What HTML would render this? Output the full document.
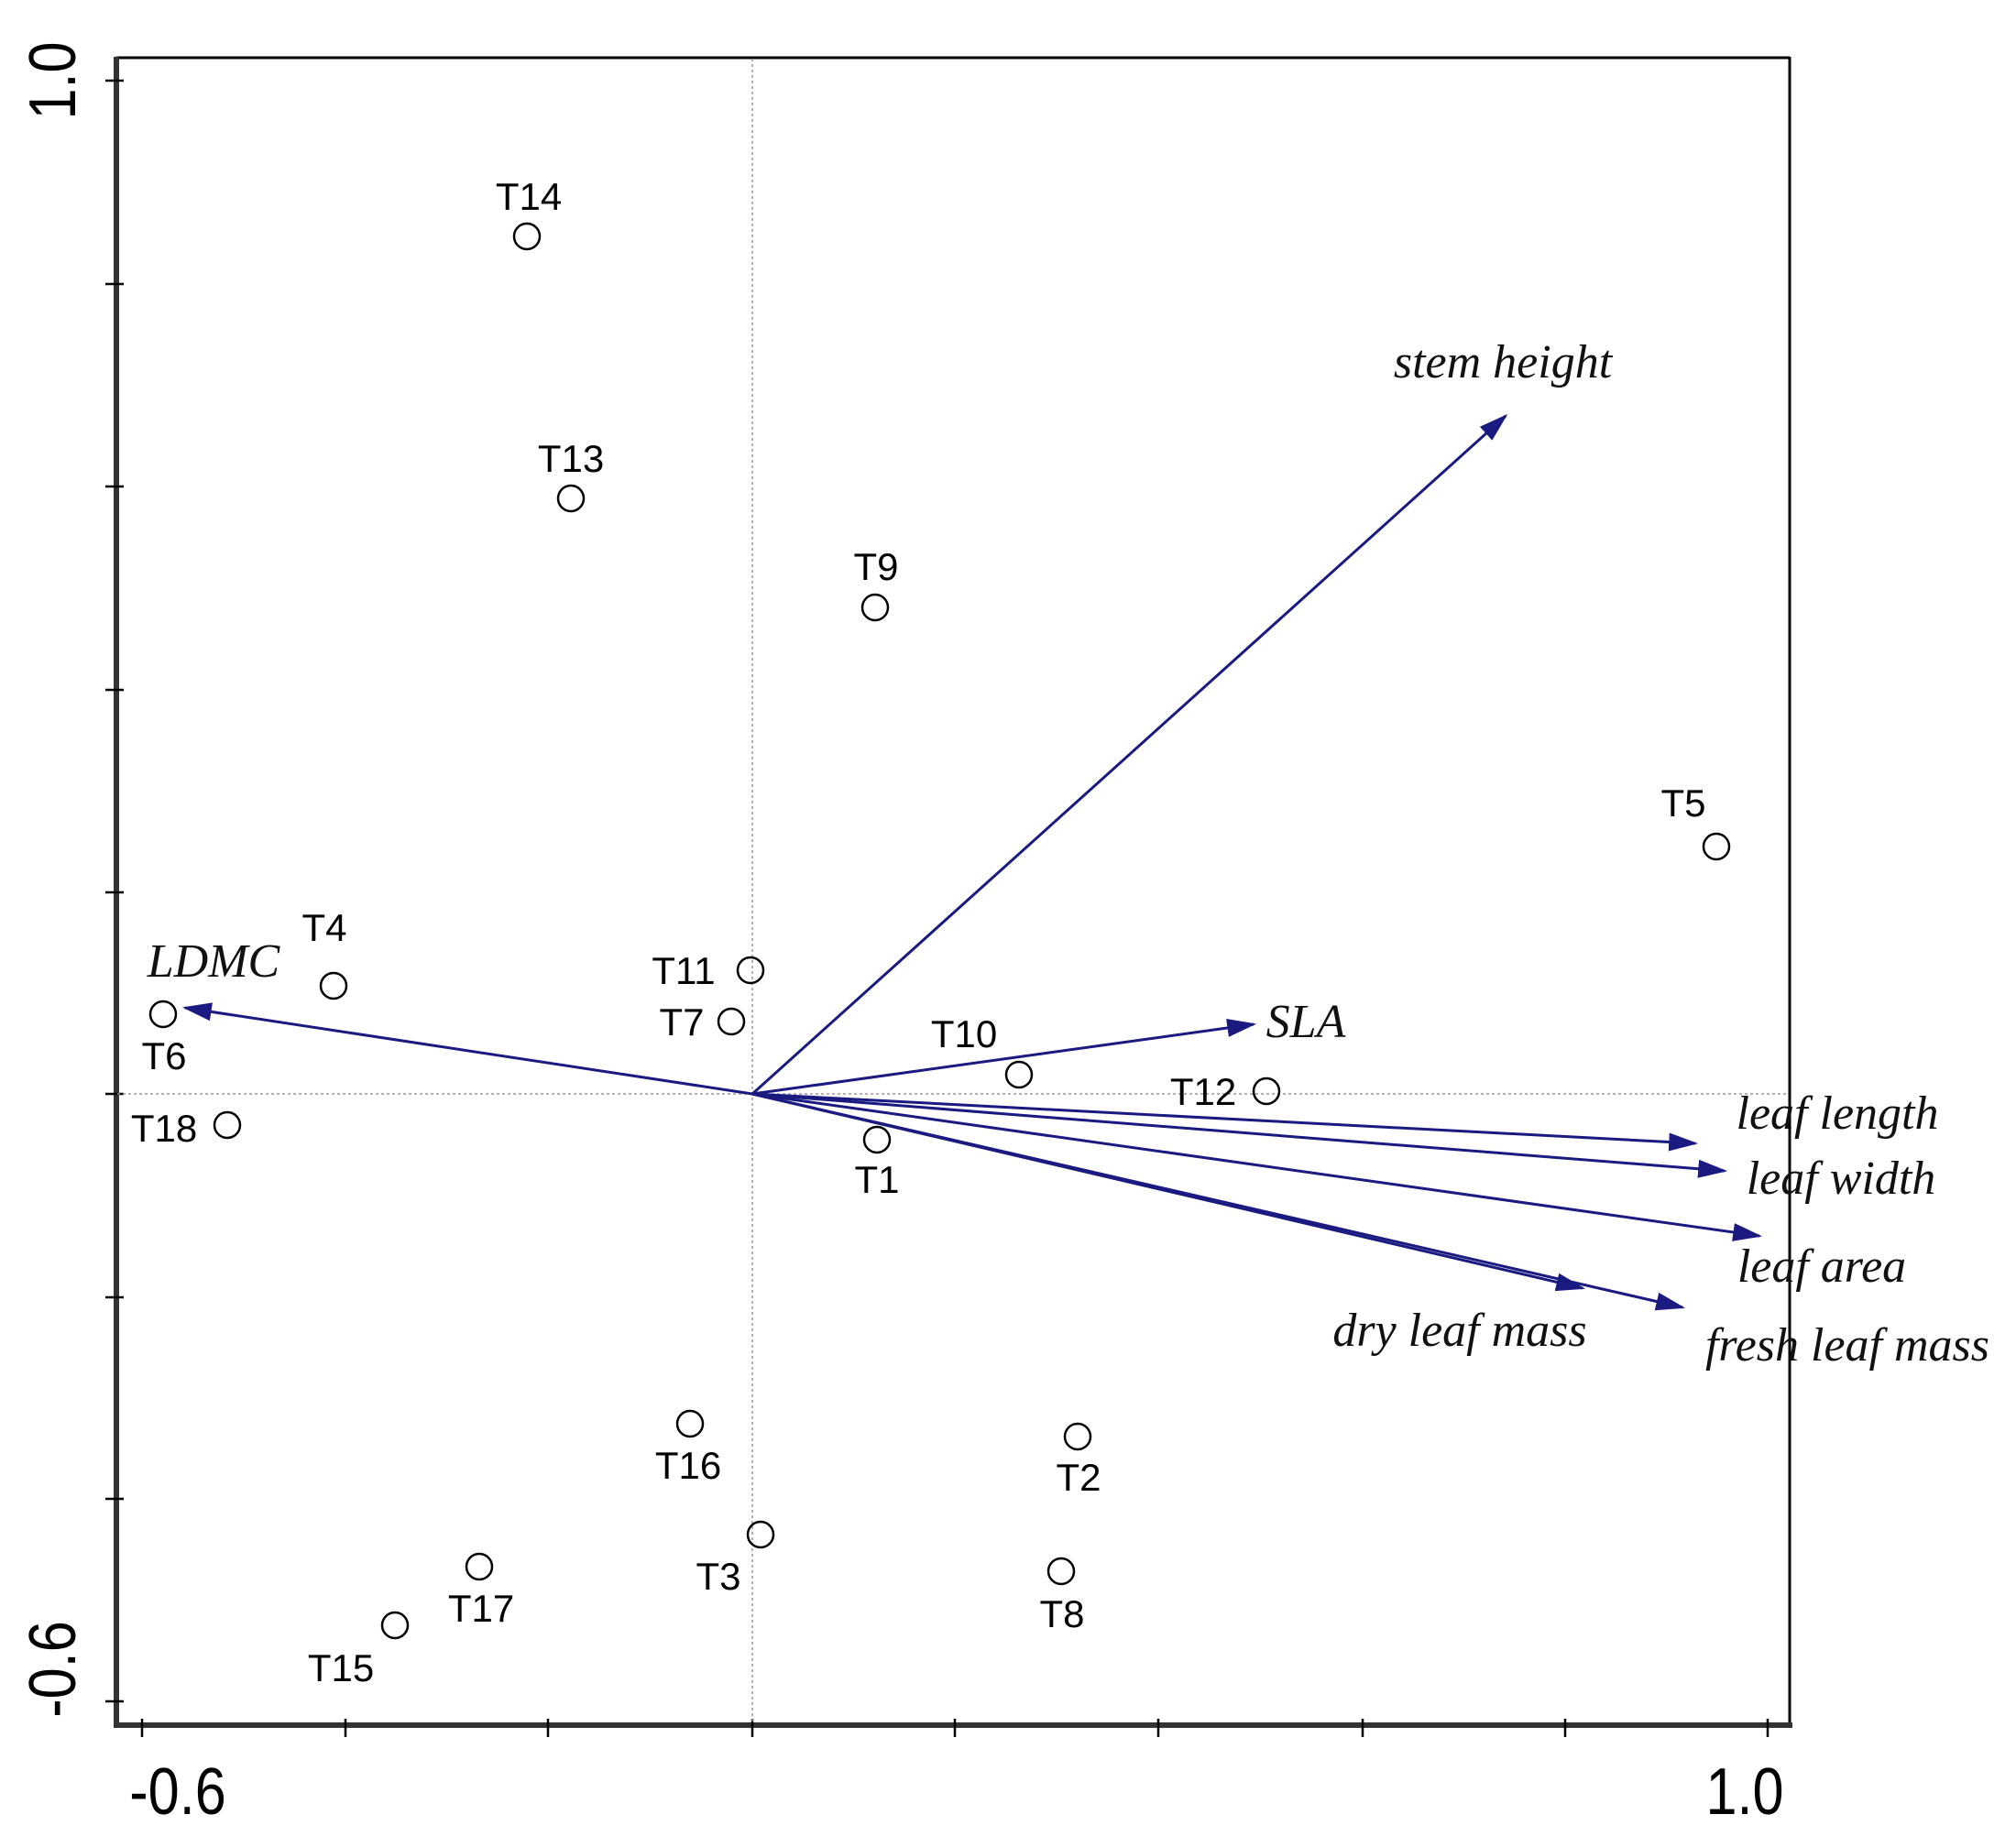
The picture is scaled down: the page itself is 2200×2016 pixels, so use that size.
<!DOCTYPE html>
<html><head><meta charset="utf-8"><style>html,body{margin:0;padding:0;background:#fff}svg{display:block}</style></head>
<body>
<svg width="2200" height="2016" viewBox="0 0 2200 2016" xmlns="http://www.w3.org/2000/svg">
<defs>
<marker id="ah" viewBox="0 0 10 10" refX="9" refY="5" markerWidth="32" markerHeight="20" markerUnits="userSpaceOnUse" orient="auto" preserveAspectRatio="none">
<path d="M0,0 L10,5 L0,10 z" fill="#1a1a80"/>
</marker>
</defs>
<line x1="127" y1="63" x2="1953" y2="63" stroke="#000" stroke-width="3"/>
<line x1="1953" y1="62" x2="1953" y2="1884" stroke="#000" stroke-width="3"/>
<line x1="127" y1="62" x2="127" y2="1886" stroke="#333" stroke-width="6"/>
<line x1="124" y1="1883" x2="1956" y2="1883" stroke="#333" stroke-width="6"/>
<g stroke="#000" stroke-width="2.5">
<line x1="115" y1="88" x2="135" y2="88"/><line x1="115" y1="310" x2="135" y2="310"/>
<line x1="115" y1="531" x2="135" y2="531"/><line x1="115" y1="753" x2="135" y2="753"/>
<line x1="115" y1="974" x2="135" y2="974"/><line x1="115" y1="1194" x2="135" y2="1194"/>
<line x1="115" y1="1416" x2="135" y2="1416"/><line x1="115" y1="1636" x2="135" y2="1636"/>
<line x1="115" y1="1857" x2="135" y2="1857"/>
<line x1="155" y1="1876" x2="155" y2="1896"/><line x1="377" y1="1876" x2="377" y2="1896"/>
<line x1="598" y1="1876" x2="598" y2="1896"/><line x1="821" y1="1876" x2="821" y2="1896"/>
<line x1="1042" y1="1876" x2="1042" y2="1896"/><line x1="1264" y1="1876" x2="1264" y2="1896"/>
<line x1="1487" y1="1876" x2="1487" y2="1896"/><line x1="1708" y1="1876" x2="1708" y2="1896"/>
<line x1="1929" y1="1876" x2="1929" y2="1896"/>
</g>
<g font-family="Liberation Sans, sans-serif" font-size="72" fill="#000">
<text x="0" y="0" text-anchor="middle" transform="translate(82,88) rotate(-90) scale(0.85,1)">1.0</text>
<text x="0" y="0" text-anchor="middle" transform="translate(82,1822) rotate(-90) scale(0.85,1)">-0.6</text>
<text x="0" y="0" text-anchor="middle" transform="translate(194,1980) scale(0.85,1)">-0.6</text>
<text x="0" y="0" text-anchor="middle" transform="translate(1904,1980) scale(0.85,1)">1.0</text>
</g>
<line x1="128" y1="1194" x2="1951" y2="1194" stroke="#999" stroke-width="1.5" stroke-dasharray="3,3"/>
<line x1="821" y1="64" x2="821" y2="1881" stroke="#999" stroke-width="1.5" stroke-dasharray="3,3"/>
<g stroke="#1a1a80" stroke-width="3" marker-end="url(#ah)">
<line x1="821" y1="1194" x2="1643" y2="454"/>
<line x1="821" y1="1194" x2="1368" y2="1118"/>
<line x1="821" y1="1194" x2="202" y2="1100"/>
<line x1="821" y1="1194" x2="1850" y2="1248"/>
<line x1="821" y1="1194" x2="1882" y2="1278"/>
<line x1="821" y1="1194" x2="1920" y2="1349"/>
<line x1="821" y1="1194" x2="1727" y2="1406"/>
<line x1="821" y1="1194" x2="1836" y2="1427"/>
</g>
<g font-family="Liberation Serif, serif" font-style="italic" font-size="52" fill="#111" text-anchor="middle">
<text x="1640" y="412">stem height</text>
<text x="1425" y="1132">SLA</text>
<text x="233" y="1066">LDMC</text>
<text x="2005" y="1232">leaf length</text>
<text x="2009" y="1303">leaf width</text>
<text x="1988" y="1399">leaf area</text>
<text x="1593" y="1469">dry leaf mass</text>
<text x="2016" y="1485">fresh leaf mass</text>
</g>
<g fill="none" stroke="#000" stroke-width="2.5">
<circle cx="575" cy="258" r="14"/><circle cx="623" cy="544" r="14"/>
<circle cx="955" cy="663" r="14"/><circle cx="1873" cy="924" r="14"/>
<circle cx="364" cy="1076" r="14"/><circle cx="178" cy="1107" r="14"/>
<circle cx="819" cy="1059" r="14"/><circle cx="798" cy="1115" r="14"/>
<circle cx="1112" cy="1173" r="14"/><circle cx="1382" cy="1191" r="14"/>
<circle cx="248" cy="1228" r="14"/><circle cx="957" cy="1244" r="14"/>
<circle cx="753" cy="1554" r="14"/><circle cx="1176" cy="1568" r="14"/>
<circle cx="830" cy="1675" r="14"/><circle cx="1158" cy="1715" r="14"/>
<circle cx="523" cy="1710" r="14"/><circle cx="431" cy="1774" r="14"/>
</g>
<g font-family="Liberation Sans, sans-serif" font-size="42" fill="#000" text-anchor="middle">
<text x="577" y="229">T14</text><text x="623" y="515">T13</text>
<text x="956" y="633">T9</text><text x="1837" y="891">T5</text>
<text x="354" y="1027">T4</text><text x="179" y="1167">T6</text>
<text x="746" y="1074">T11</text><text x="744" y="1130">T7</text>
<text x="1052" y="1143">T10</text><text x="1313" y="1206">T12</text>
<text x="179" y="1246">T18</text><text x="957" y="1302">T1</text>
<text x="751" y="1614">T16</text><text x="1177" y="1627">T2</text>
<text x="784" y="1735">T3</text><text x="1159" y="1776">T8</text>
<text x="525" y="1770">T17</text><text x="372" y="1835">T15</text>
</g>
</svg>
</body></html>
